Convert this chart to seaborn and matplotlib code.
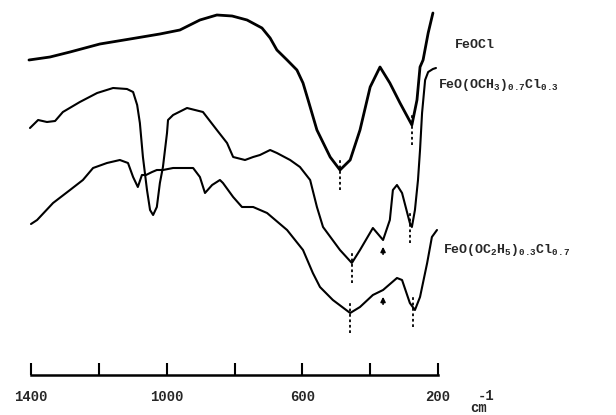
"""
IR spectra of FeOCl and its alkoxide derivatives
"""

import numpy as np
import matplotlib
matplotlib.use('Agg')
import matplotlib.pyplot as plt
import seaborn as sns

# wavenumbers (cm-1) and transmittance (arbitrary, offset traces)
feocl_wn = [1406, 1344, 1285, 1197, 1108, 1020, 961, 902, 852, 807, 763, 719, 695,
            675, 645, 616, 598, 583, 557, 518, 489, 459, 430, 400, 371, 342, 312,
            277, 262, 253, 244, 229, 215]
feocl_t = [315, 318, 323, 331, 336, 341, 345, 355, 360, 359, 355, 347, 337,
           325, 315, 305, 292, 275, 245, 218, 205, 215, 245, 288, 308, 292, 272,
           250, 275, 308, 315, 342, 362]

meo_wn = [1403, 1379, 1353, 1329, 1306, 1256, 1205, 1158, 1117, 1099, 1087, 1079,
          1070, 1058, 1049, 1040, 1029, 1020, 1011, 999, 996, 981, 940, 893, 852,
          822, 804, 769, 745, 725, 695, 675, 636, 607, 577, 557, 539, 489, 454,
          430, 392, 362, 342, 333, 321, 306, 283, 277, 268, 259, 253, 247, 238,
          229, 215, 206]
meo_t = [247, 255, 253, 254, 263, 273, 282, 287, 286, 283, 270, 252,
         218, 185, 165, 160, 168, 192, 208, 242, 255, 260, 267, 263, 245,
         232, 218, 215, 218, 220, 225, 222, 215, 208, 195, 168, 148, 125, 112,
         125, 147, 135, 155, 185, 190, 182, 152, 148, 165, 195, 225, 262, 295,
         303, 306, 307]

eto_wn = [1400, 1382, 1335, 1285, 1247, 1217, 1176, 1138, 1114, 1099, 1085, 1073,
          1061, 1043, 1029, 1011, 981, 922, 902, 887, 866, 843, 834, 804, 778,
          745, 704, 645, 598, 569, 548, 510, 459, 430, 392, 362, 321, 306, 283,
          268, 253, 232, 218, 203]
eto_t = [151, 155, 172, 185, 195, 207, 212, 215, 212, 198, 188, 200,
         200, 203, 205, 205, 207, 207, 198, 182, 190, 195, 192, 178, 168,
         168, 162, 145, 125, 102, 88, 75, 62, 68, 80, 85, 97, 95, 72,
         65, 78, 112, 138, 145]

# marked bands (cm-1)
feocl_bands = [489, 277]
meo_bands = [454, 283]
eto_bands = [459, 274]
arrow_band = 362

tick_pos = [1400, 1200, 1000, 800, 600, 400, 200]
tick_lab = ['1400', '', '1000', '', '600', '', '200']

sns.set_style('white')
plt.rcParams['font.family'] = ['Liberation Mono', 'DejaVu Sans Mono']
plt.rcParams['font.weight'] = 'bold'
plt.rcParams['mathtext.fontset'] = 'custom'
plt.rcParams['mathtext.rm'] = 'Liberation Mono:bold'
plt.rcParams['mathtext.it'] = 'Liberation Mono:bold'
plt.rcParams['mathtext.bf'] = 'Liberation Mono:bold'

fig = plt.figure(figsize=(6.16, 4.15), dpi=100)
ax = fig.add_axes([0, 0, 1, 1])

traces = [(feocl_wn, feocl_t, 2.0), (meo_wn, meo_t, 1.5), (eto_wn, eto_t, 1.5)]
for wn, t, lw in traces:
    sns.lineplot(x=wn, y=t, ax=ax, color='black', lw=lw, sort=False,
                 estimator=None)

# dotted band markers
for wn, t, bands in [(feocl_wn, feocl_t, feocl_bands),
                     (meo_wn, meo_t, meo_bands),
                     (eto_wn, eto_t, eto_bands)]:
    for b in bands:
        yb = np.interp(b, wn[::-1], t[::-1])
        ax.plot([b, b], [yb - 20, yb + 10], color='black', lw=1.3,
                linestyle=(0, (1.5, 1.5)))

# small arrows
for wn, t in [(meo_wn, meo_t), (eto_wn, eto_t)]:
    yb = np.interp(arrow_band, wn[::-1], t[::-1])
    ax.annotate('', xy=(arrow_band, yb - 4), xytext=(arrow_band, yb - 17),
                arrowprops=dict(arrowstyle='-|>', color='black', lw=1.2,
                                mutation_scale=7))

ax.text(149, 330, 'FeOCl', fontsize=9.5, ha='left', va='center')
ax.text(200, 290, r'FeO(OCH$_3$)$_{0.7}$Cl$_{0.3}$', fontsize=9.5,
        ha='left', va='center')
ax.text(185, 125, r'FeO(OC$_2$H$_5$)$_{0.3}$Cl$_{0.7}$', fontsize=9.5,
        ha='left', va='center')
ax.text(106, -37, 'cm', fontsize=10, ha='left', va='baseline')
ax.text(82, -25, '-1', fontsize=10, ha='left', va='baseline')

ax.set_xlim(1491.4, -324.8)
ax.set_ylim(-40, 375)
for s in ['top', 'left', 'right']:
    ax.spines[s].set_visible(False)
ax.spines['bottom'].set_position(('data', 0))
ax.spines['bottom'].set_bounds(1400, 200)
ax.spines['bottom'].set_linewidth(1.8)
ax.spines['bottom'].set_color('black')
ax.set_xticks(tick_pos)
ax.set_xticklabels(tick_lab, fontsize=10, fontweight='bold')
ax.tick_params(axis='x', bottom=True, direction='in', length=8.5, width=1.5,
               pad=11, color='black')
ax.set_yticks([])
ax.set_xlabel('')
ax.set_ylabel('')

plt.savefig('out.png', dpi=100)
